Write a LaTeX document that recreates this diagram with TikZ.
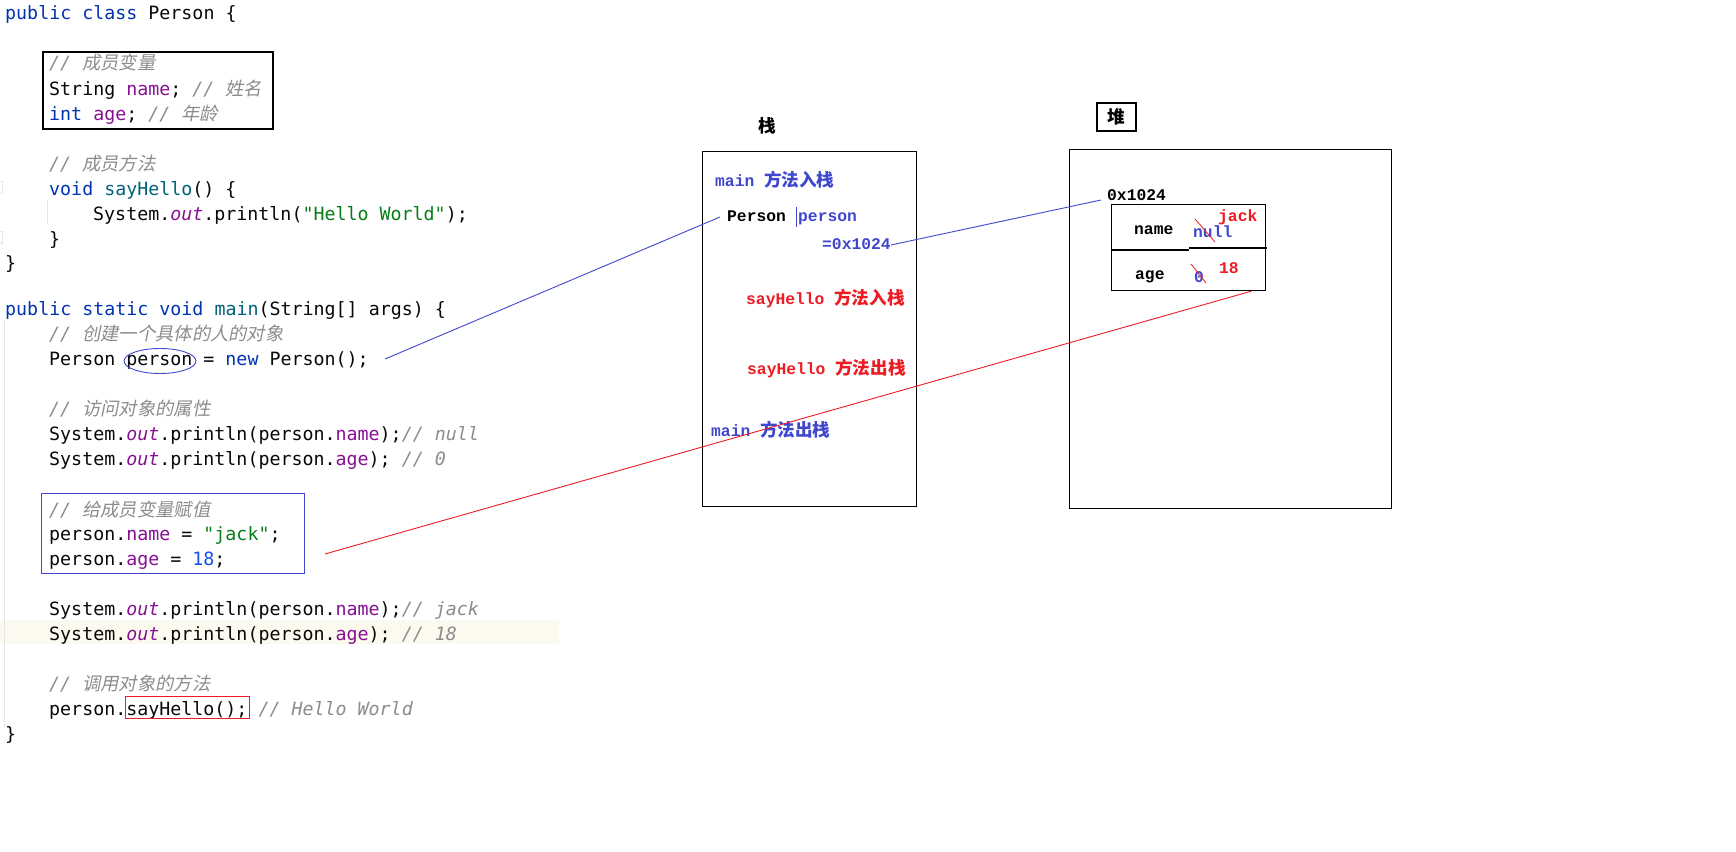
\documentclass[tikz,border=0pt]{standalone}
\usepackage{fontspec}
\setmainfont{DejaVu Sans}
\newfontfamily\codefont{DejaVu Sans Mono}
\newfontfamily\cjkfont{Noto Sans CJK SC}
\newfontfamily\cjkit[FakeSlant=0.2]{Noto Sans CJK SC}
\newfontfamily\smono{Liberation Mono}
\definecolor{ctxt}{HTML}{080808}
\definecolor{ckw}{HTML}{0033B3}
\definecolor{cfd}{HTML}{871094}
\definecolor{cstr}{HTML}{067D17}
\definecolor{cnum}{HTML}{1750EB}
\definecolor{cfn}{HTML}{00627A}
\definecolor{ccm}{HTML}{8C8C8C}
\definecolor{cband}{HTML}{FCFAEE}
\definecolor{cguide}{HTML}{E6E6E6}
\definecolor{cblue}{RGB}{63,72,204}
\definecolor{cred}{RGB}{237,28,36}
\newcommand\jkw[1]{{\color{ckw}#1}}
\newcommand\jfd[1]{{\color{cfd}#1}}
\newcommand\jout{{\color{cfd}\itshape out}}
\newcommand\jstr[1]{{\color{cstr}#1}}
\newcommand\jnum[1]{{\color{cnum}#1}}
\newcommand\jfn[1]{{\color{cfn}#1}}
\newcommand\jcm[1]{{\color{ccm}\itshape #1}}
\newcommand\jzh[1]{{\color{ccm}\cjkit #1}}
\newcommand\stl[1]{{\smono\bfseries\fontsize{16.3}{18}\selectfont #1}}
\newcommand\stz[1]{{\cjkfont\bfseries\fontsize{17.6}{18}\selectfont #1}}
\begin{document}
\begin{tikzpicture}[x=1pt,y=-1pt,
  code/.style={anchor=west,inner sep=0pt,text height=13pt,text depth=4pt,yshift=-3.5pt,
    font=\codefont\fontsize{18.3}{22}\selectfont,text=ctxt},
  stk/.style={anchor=west,inner sep=0pt,text height=12pt,text depth=3pt},
  membox/.style={draw,line width=1.3pt,inner sep=0pt,anchor=north west},
  bl/.style={draw=cblue,line width=0.9pt},
  rd/.style={draw=cred,line width=0.9pt},
  guide/.style={draw=cguide,line width=1pt}]
\fill[white] (0,0) rectangle (1736,851);
\useasboundingbox (0,0) rectangle (1736,851);
% current-line band and indent guides
\fill[cband] (0,620) rectangle (559,644);
\draw[guide] (4,320) -- (4,727);
\draw[guide] (47,200) -- (47,224);
\draw[guide,line width=0.8pt] (-4,181) -- (2,181) -- (2,193) -- (-4,193);
\draw[guide,line width=0.8pt] (-4,231) -- (2,231) -- (2,243) -- (-4,243);
% code
\node[code] (r0) at (5,12) {\jkw{public class} Person \{};
\node[code] (r2) at (49,62) {\jcm{// }\jzh{成员变量}};
\node[code] (r3) at (49,87) {String \jfd{name}; \jcm{// }\jzh{姓名}};
\node[code] (r4) at (49,112) {\jkw{int} \jfd{age}; \jcm{// }\jzh{年龄}};
\node[code] (r6) at (49,162) {\jcm{// }\jzh{成员方法}};
\node[code] (r7) at (49,187) {\jkw{void} \jfn{sayHello}() \{};
\node[code] (r8) at (93,212) {System.\jout.println(\jstr{"Hello World"});};
\node[code] (r9) at (49,237) {\}};
\node[code] (r10) at (5,261) {\}};
\node[code] (r12) at (5,307) {\jkw{public static void} \jfn{main}(String[] args) \{};
\node[code] (r13) at (49,332) {\jcm{// }\jzh{创建一个具体的人的对象}};
\node[code] (r14) at (49,357) {Person person = \jkw{new} Person();};
\node[code] (r16) at (49,407) {\jcm{// }\jzh{访问对象的属性}};
\node[code] (r17) at (49,432) {System.\jout.println(person.\jfd{name});\jcm{// null}};
\node[code] (r18) at (49,457) {System.\jout.println(person.\jfd{age}); \jcm{// 0}};
\node[code] (r20) at (49,508) {\jcm{// }\jzh{给成员变量赋值}};
\node[code] (r21) at (49,532) {person.\jfd{name} = \jstr{"jack"};};
\node[code] (r22) at (49,557) {person.\jfd{age} = \jnum{18};};
\node[code] (r24) at (49,607) {System.\jout.println(person.\jfd{name});\jcm{// jack}};
\node[code] (r25) at (49,632) {System.\jout.println(person.\jfd{age}); \jcm{// 18}};
\node[code] (r27) at (49,682) {\jcm{// }\jzh{调用对象的方法}};
\node[code] (r28) at (49,707) {person.sayHello(); \jcm{// Hello World}};
\node[code] (r29) at (5,732) {\}};
% annotation marks on the code
\draw[line width=1.3pt] (43,52) rectangle (273,129);
\draw[cblue,line width=1pt] (41,493) rectangle (304,573);
\draw[cred,line width=1pt] (125,696) rectangle (249,718);
\draw[cblue,line width=0.9pt] (160,361) ellipse [x radius=36,y radius=12.5];
% stack
\node[stk,anchor=center] (stitle) at (767,128) {\stz{栈}};
\node[membox,minimum width=214pt,minimum height=355pt] (stack) at (702,151) {};
\node[stk,text=cblue] (s1) at (715,182) {\stl{main }\stz{方法入栈}};
\node[stk,inner xsep=7pt] (s2) at (720,217) {\stl{Person}};
\draw[cblue,line width=1pt] (796,207) -- (796,227);
\node[stk,text=cblue] (s3) at (798,217) {\stl{person}};
\node[stk,text=cblue] (s4) at (822,245) {\stl{=0x1024}};
\node[stk,text=cred] (s5) at (746,300) {\stl{sayHello }\stz{方法入栈}};
\node[stk,text=cred] (s6) at (747,370) {\stl{sayHello }\stz{方法出栈}};
\node[stk,text=cblue] (s7) at (711,432) {\stl{main }\stz{方法出栈}};
% heap
\node[draw,line width=1.3pt,inner sep=0pt,minimum width=39pt,minimum height=28pt] (htitle) at (1116.5,117) {\stz{堆}};
\node[membox,minimum width=322pt,minimum height=359pt] (heap) at (1069,149) {};
\node[stk] (addr) at (1107,196) {\stl{0x1024}};
\node[draw,line width=1.2pt,inner sep=0pt,anchor=north west,minimum width=154pt,minimum height=86pt] (tbl) at (1111,204) {};
\draw[line width=1.2pt] (1111,250) -- (1189,250);
\draw[line width=1.2pt] (1189,248) -- (1267,248);
\node[stk] (fname) at (1134,230) {\stl{name}};
\node[stk] (fage) at (1135,275) {\stl{age}};
\node[stk,text=cblue] (vnull) at (1193,233) {\stl{null}};
\node[stk,text=cred] (vjack) at (1218,217) {\stl{jack}};
\node[stk,text=cblue] (vzero) at (1194,278) {\stl{0}};
\node[stk,text=cred] (v18) at (1219,269) {\stl{18}};
\draw[cred,line width=0.8pt] (1195,219) -- (1215,242);
\draw[cred,line width=0.8pt] (1191,264) -- (1206,283);
% connectors
\coordinate (cA) at (385,359);
\coordinate (cB) at (1101,200);
\coordinate (cC) at (325,554);
\coordinate (cD) at ([xshift=-15pt]tbl.south east);
\draw[bl] (cA) -- (s2.west);
\draw[bl] (s4.east) -- (cB);
\draw[rd] (cC) -- (cD);
\end{tikzpicture}
\end{document}
